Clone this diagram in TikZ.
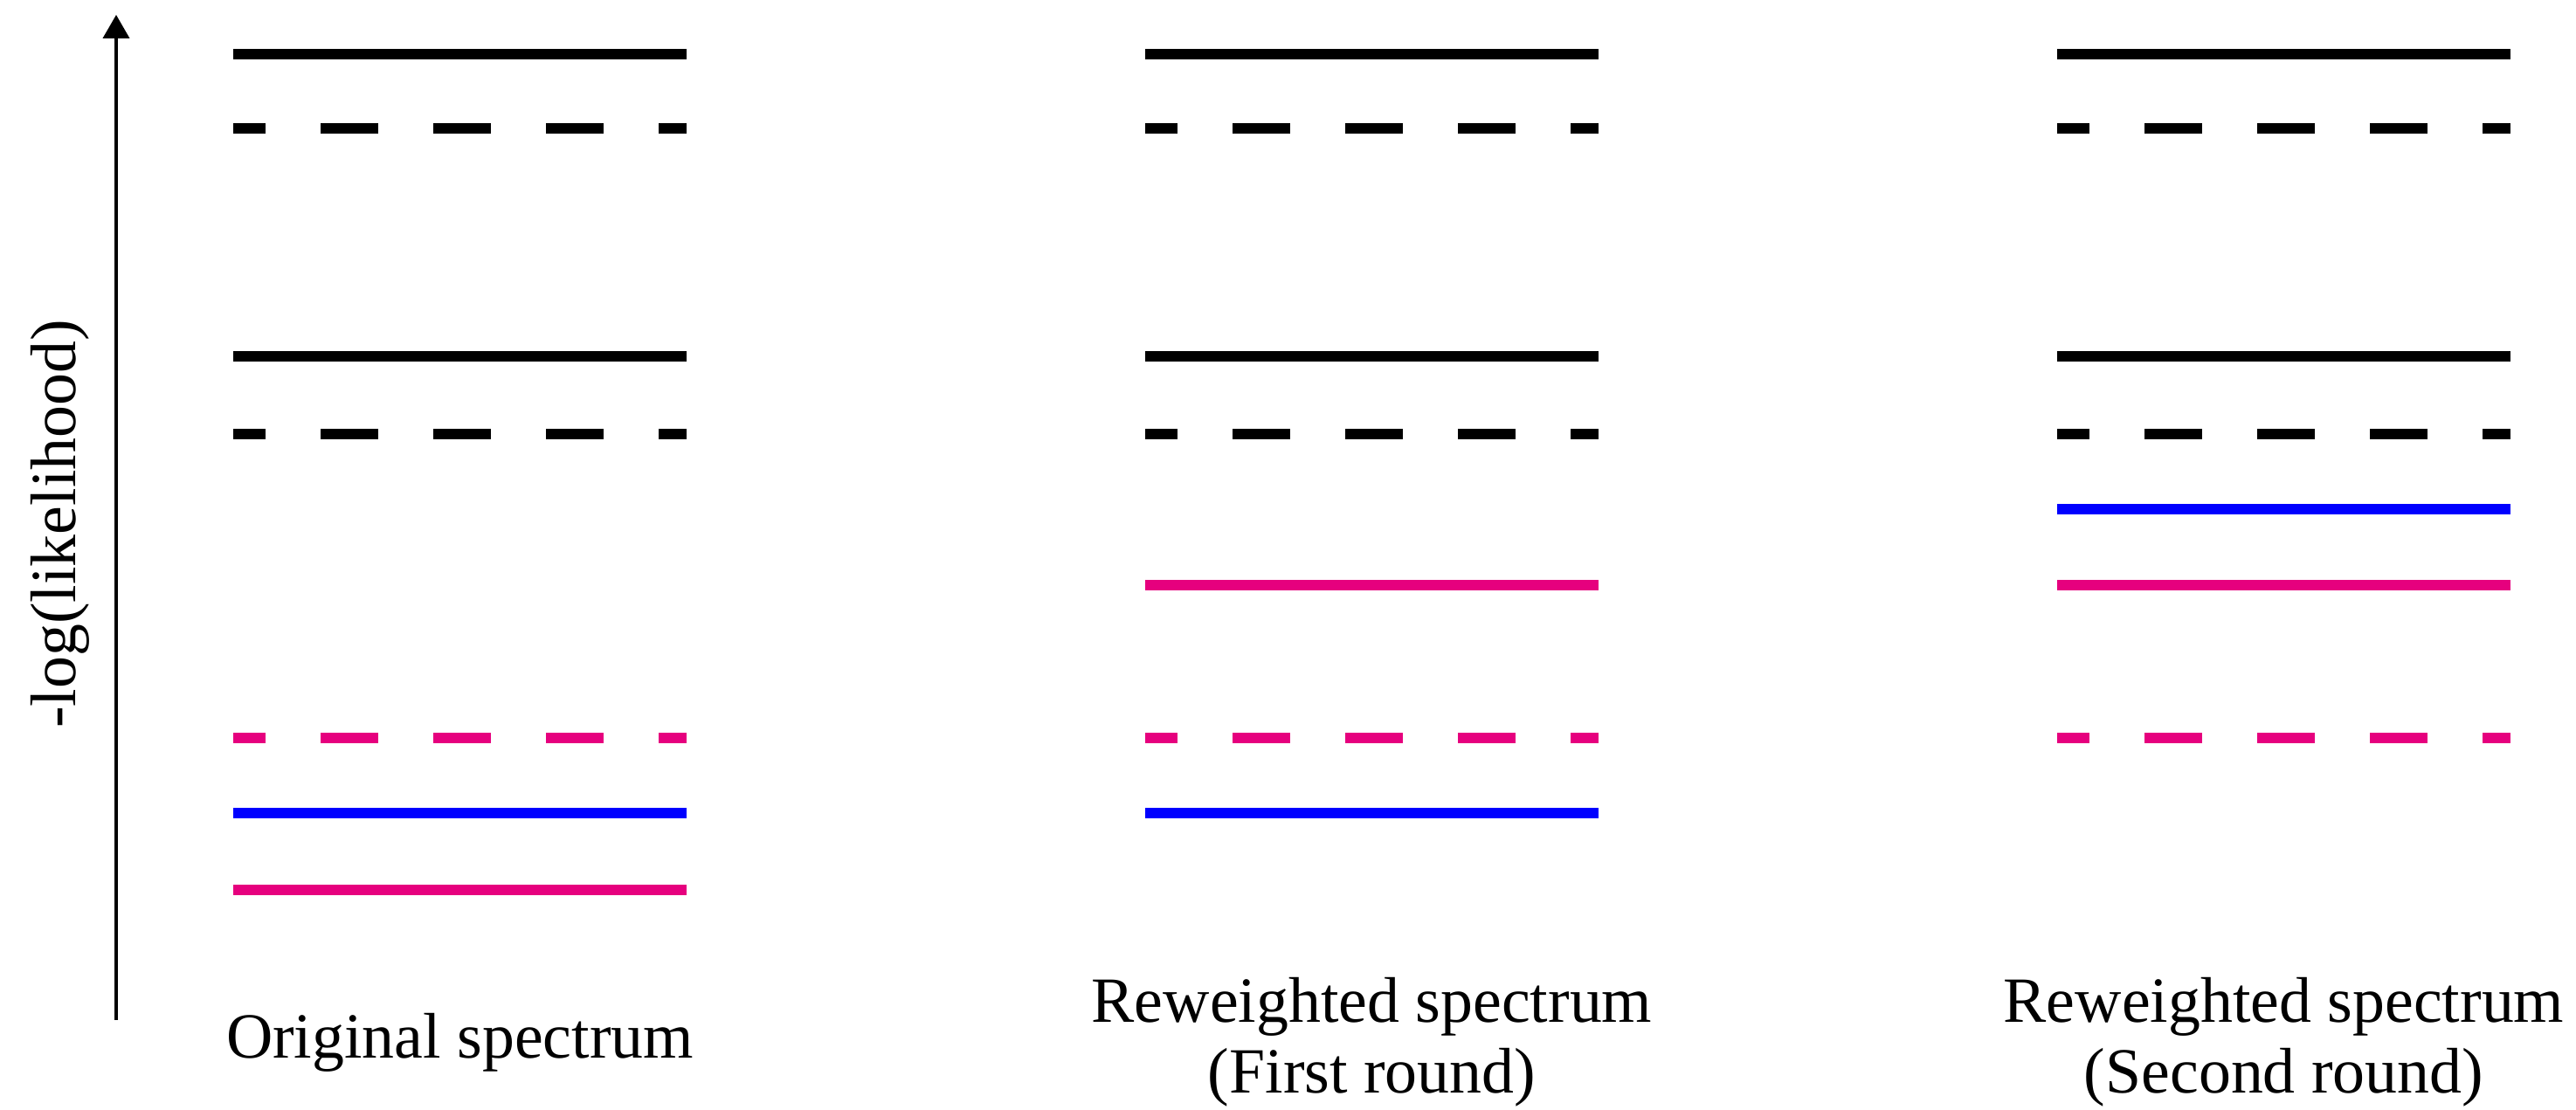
\documentclass[tikz,border=0pt]{standalone}
\usepackage{fontspec}
\setmainfont{Liberation Serif}
\usetikzlibrary{arrows.meta}
\definecolor{levpink}{RGB}{230,0,126}
\definecolor{levblue}{RGB}{0,0,255}
\tikzset{
  lev/.style={line width=0.115cm},
  levdash/.style={lev, dash pattern=on 0.66cm off 0.63cm, dash phase=0.29cm},
  lab/.style={font=\fontsize{21}{22.8}\selectfont, align=center, inner sep=0pt},
}
\begin{document}
\begin{tikzpicture}[x=1cm, y=1cm]
  \useasboundingbox (0,0) rectangle (29.49,12.71);
  % axis
  \coordinate (O) at (1.33,1.03); \coordinate (T) at (1.33,12.54);
  \draw[line width=1.1pt, -{Triangle[length=0.27cm,width=0.3cm]}] (O) -- (T);
  \node[lab, rotate=90] (ylab) at (0.69,6.71) {-log(likelihood)};
  % black levels (all columns)
  \foreach \x in {2.67,13.11,23.55}{
    \draw[lev] (\x,12.09) -- ++(5.19,0);
    \draw[levdash] (\x,11.24) -- ++(5.19,0);
    \draw[lev] (\x,8.63) -- ++(5.19,0);
    \draw[levdash] (\x,7.74) -- ++(5.19,0);
  }
  % original
  \draw[levdash, levpink] (2.67,4.26) -- ++(5.19,0);
  \draw[lev, levblue] (2.67,3.40) -- ++(5.19,0);
  \draw[lev, levpink] (2.67,2.52) -- ++(5.19,0);
  % first round
  \draw[lev, levpink] (13.11,6.01) -- ++(5.19,0);
  \draw[levdash, levpink] (13.11,4.26) -- ++(5.19,0);
  \draw[lev, levblue] (13.11,3.40) -- ++(5.19,0);
  % second round
  \draw[lev, levblue] (23.55,6.88) -- ++(5.19,0);
  \draw[lev, levpink] (23.55,6.01) -- ++(5.19,0);
  \draw[levdash, levpink] (23.55,4.26) -- ++(5.19,0);
  % labels
  \node[lab, anchor=base] (orig) at (5.265,0.59) {Original spectrum};
  \node[lab, anchor=north] (first) at (15.705,1.52) {Reweighted spectrum\\(First round)};
  \node[lab, anchor=north] (second) at (26.145,1.52) {Reweighted spectrum\\(Second round)};
\end{tikzpicture}
\end{document}
